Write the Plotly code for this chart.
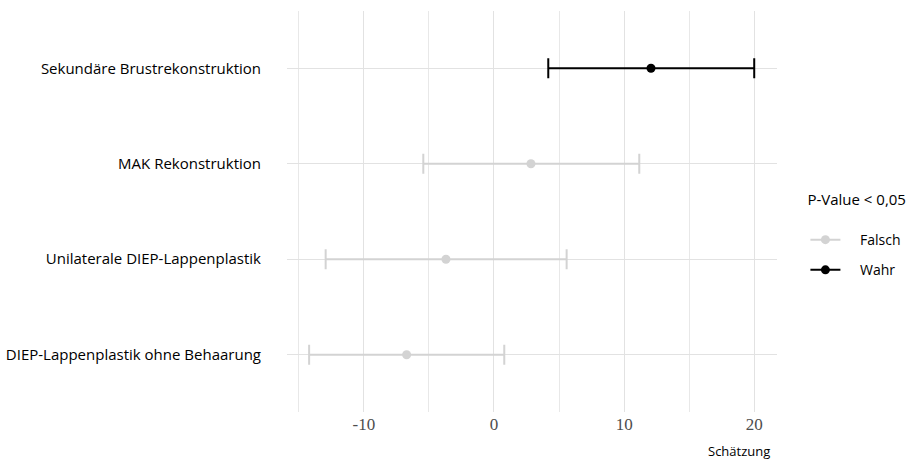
import plotly.graph_objects as go

# Regression estimates with 95% confidence intervals
categories = [
    "Sekundäre Brustrekonstruktion",
    "MAK Rekonstruktion",
    "Unilaterale DIEP-Lappenplastik",
    "DIEP-Lappenplastik ohne Behaarung",
]
estimate = [12.06, 2.84, -3.69, -6.71]
lower = [4.17, -5.43, -12.93, -14.20]
upper = [19.99, 11.16, 5.58, 0.79]
significant = [True, False, False, False]

x_ticks = [-10, 0, 10, 20]
x_tick_labels = ["-10", "0", "10", "20"]

groups = [("Falsch", False, "#d3d3d3"), ("Wahr", True, "#000000")]

SANS = "Open Sans, sans-serif"
PAD = "\u00a0" * 4

fig = go.Figure()

for name, flag, color in groups:
    idx = [i for i, s in enumerate(significant) if s == flag]
    xs = [estimate[i] for i in idx]
    ys = [categories[i] for i in idx]
    plus = [upper[i] - estimate[i] for i in idx]
    minus = [estimate[i] - lower[i] for i in idx]
    fig.add_trace(go.Scatter(
        x=xs, y=ys, mode="markers",
        marker=dict(color=color, size=9),
        error_x=dict(type="data", symmetric=False, array=plus, arrayminus=minus,
                     color=color, thickness=2, width=10),
        showlegend=False, hoverinfo="x+y",
    ))

# Legend entries (point with line key)
for name, flag, color in groups:
    fig.add_trace(go.Scatter(
        x=[None], y=[None], mode="lines+markers", name=PAD + name,
        legendgroup=name,
        line=dict(color=color, width=2),
        marker=dict(color=color, size=9),
    ))

fig.update_layout(
    width=912, height=468,
    margin=dict(l=287, r=135, t=11, b=56, autoexpand=False),
    paper_bgcolor="white", plot_bgcolor="white",
    font=dict(family=SANS, size=14, color="#000000"),
    legend=dict(
        title=dict(text="P-Value < 0,05<br> ", font=dict(family=SANS, size=15, color="#000000")),
        x=1.058, y=0.44, xanchor="left", yanchor="middle",
        font=dict(family=SANS, size=14, color="#000000"),
        tracegroupgap=9, itemwidth=30,
    ),
    annotations=[dict(
        text="Schätzung", xref="paper", yref="paper", x=0.99, y=-0.07,
        xanchor="right", yanchor="top", showarrow=False,
        font=dict(family=SANS, size=13, color="#000000"),
    )],
)

fig.update_xaxes(
    range=[-15.9, 21.74],
    tickvals=x_ticks, ticktext=x_tick_labels,
    showgrid=True, gridcolor="#e2e2e2", gridwidth=1,
    minor=dict(dtick=5, tick0=0, showgrid=True, gridcolor="#e8e8e8", gridwidth=1),
    zeroline=False, showline=False, ticks="", automargin=False,
    tickfont=dict(family="Liberation Serif, serif", size=17, color="#4d4d4d"),
)

fig.update_yaxes(
    type="category",
    categoryorder="array", categoryarray=categories[::-1],
    range=[-0.6, 3.6],
    showgrid=True, gridcolor="#e2e2e2", gridwidth=1,
    zeroline=False, showline=False, ticks="", automargin=False,
    ticklabelstandoff=25,
    tickfont=dict(family=SANS, size=15, color="#000000"),
)

fig.write_html("out.html")
